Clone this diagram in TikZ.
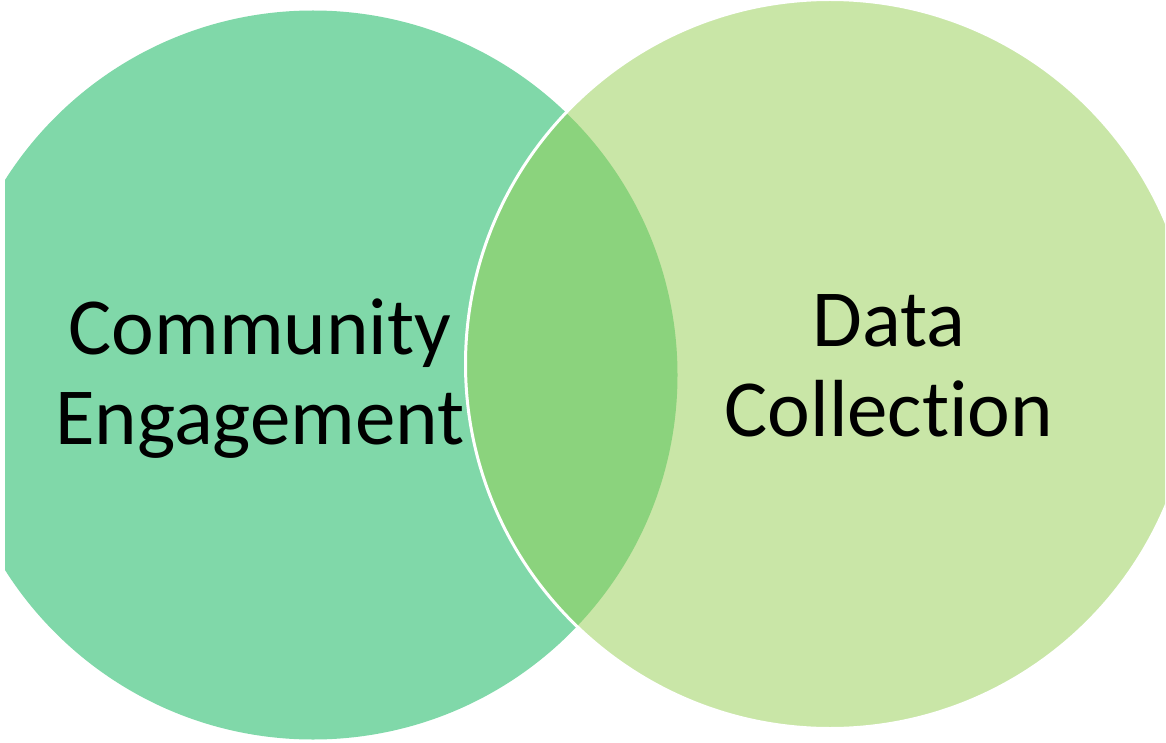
\documentclass[tikz,border=0pt]{standalone}
\usepackage{fontspec}
\setmainfont[Ligatures={NoCommon,NoContextual}]{Carlito}
\usetikzlibrary{positioning}
\definecolor{cteal}{HTML}{80D8A9}
\definecolor{clime}{HTML}{C9E6A7}
\definecolor{cmix}{HTML}{8BD37D}
\tikzset{
  every picture/.style={x=0.5pt, y=-0.5pt},
  disc/.style={circle, fill=#1, inner sep=0pt, minimum size=364.5pt},
  disc/.default=cteal,
  vtext/.style={align=center, inner sep=0pt, font=\fontsize{40.5}{45}\selectfont},
}

\begin{document}
\begin{tikzpicture}
  \useasboundingbox (0,0) rectangle (1166,743);
  \clip (5,0) rectangle (1165,743);
  % the two sets
  \node[disc=cteal] (engage) at (313,375) {};
  \node[disc=clime] (collect) at (830,364) {};
  % shared part
  \begin{scope}
    \clip (engage.center) circle (182.25pt);
    \fill[cmix] (collect.center) circle (182.25pt);
  \end{scope}
  \draw[white, line width=1.5pt] (collect.center) circle (182.25pt);
  % set names
  \node[vtext] (engagetxt) at (260,379) {Community\\Engagement};
  \node[vtext] (collecttxt) at (889,366) {Data\\Collect\kern0pt ion};
\end{tikzpicture}
\end{document}
